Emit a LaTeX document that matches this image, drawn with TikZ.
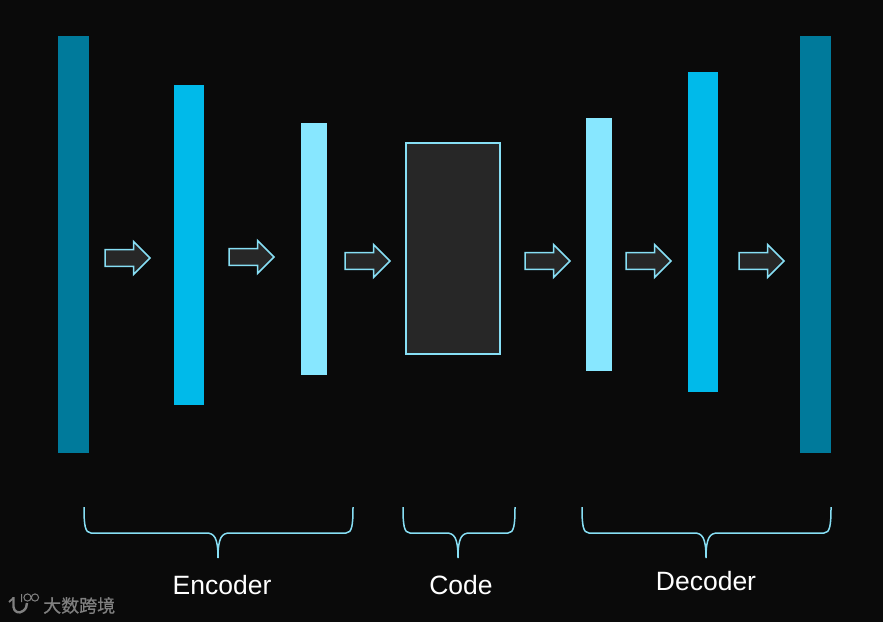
\documentclass[tikz,border=0pt]{standalone}
\usepackage{fontspec}
\setmainfont{Liberation Sans}
\newfontfamily\cjkfont[FakeBold=0.6]{Noto Sans CJK SC}
\usetikzlibrary{shapes.arrows}
\definecolor{bgc}{HTML}{0A0A0A}
\definecolor{barA}{HTML}{007A9B}
\definecolor{barB}{HTML}{00BAEA}
\definecolor{barC}{HTML}{87E7FF}
\definecolor{edgec}{HTML}{87DFF5}
\definecolor{fillc}{HTML}{272727}
\definecolor{markc}{HTML}{808080}
\tikzset{
 x=1pt,y=-1pt,
 layerbar/.style={inner sep=0,outer sep=0,minimum width=#1},
 flowarrow/.style={single arrow,draw=edgec,fill=fillc,line width=1.5pt,inner sep=0,outer sep=0,anchor=tail,
   minimum height=45pt,minimum width=33pt,single arrow head extend=8pt,single arrow tip angle=90,
   single arrow head indent=0pt,text height=15pt,text depth=0pt,text width=15pt},
 bracket/.style={draw=edgec,line width=1.5pt},
 lab/.style={text=white,font=\fontsize{26.5}{30}\selectfont,inner sep=0},
}
\newcommand{\bracketat}[3]{%
 \draw[bracket] (#1,507) .. controls (#1,525) and (#1+1,533) .. (#1+7,533)
   -- (#2-12,533) .. controls (#2-4,533) and (#2,537) .. (#2,558)
   .. controls (#2,537) and (#2+4,533) .. (#2+12,533)
   -- (#3-7,533) .. controls (#3-1,533) and (#3,525) .. (#3,507);}
\begin{document}
\begin{tikzpicture}
\useasboundingbox[fill=bgc] (0,0) rectangle (883,622);
\node[layerbar=31pt,minimum height=417pt,fill=barA] (in) at (73.5,244.5) {};
\node[layerbar=30pt,minimum height=320pt,fill=barB] (e1) at (189,245) {};
\node[layerbar=26pt,minimum height=252pt,fill=barC] (e2) at (314,249) {};
\node[layerbar=94pt,minimum height=211pt,fill=fillc,draw=edgec,line width=1.2pt] (code) at (453,248.5) {};
\node[layerbar=26pt,minimum height=253pt,fill=barC] (d1) at (599,244.5) {};
\node[layerbar=30pt,minimum height=320pt,fill=barB] (d2) at (703,232) {};
\node[layerbar=31pt,minimum height=417pt,fill=barA] (out) at (815.5,244.5) {};
\node[flowarrow] (a1) at (105,258) {};
\node[flowarrow] (a2) at (229,257) {};
\node[flowarrow] (a3) at (345,261) {};
\node[flowarrow] (a4) at (525,261) {};
\node[flowarrow] (a5) at (626,261) {};
\node[flowarrow] (a6) at (739,261) {};
\bracketat{84}{218}{353}
\bracketat{403}{458}{515}
\bracketat{582}{706}{831}
\node[lab] (t1) at (222,585) {Encoder};
\node[lab] (t2) at (461,585) {Code};
\node[lab] (t3) at (706,581) {Decoder};
\node[text=markc,font=\cjkfont\fontsize{18}{20}\selectfont,inner sep=0,anchor=west] (wm) at (43,605.5) {大数跨境};
\draw[markc,line width=2.4pt] (13.5,597) -- (13.5,607) .. controls (14,612) and (19,614) .. (23,611) .. controls (26,609) and (27,606) .. (27,603);
\draw[markc,line width=1.8pt] (9,602) -- (13.5,598);
\draw[markc,line width=1pt] (27.5,597.5) circle (3.6) (35,597.5) circle (3.6) (21.5,594) -- (21.5,602);
\end{tikzpicture}
\end{document}
